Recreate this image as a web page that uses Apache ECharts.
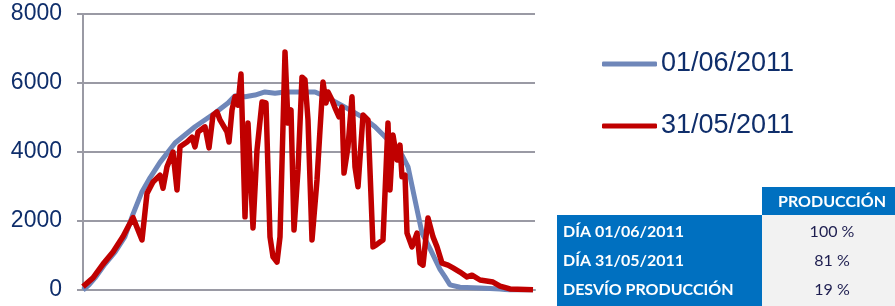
<!DOCTYPE html>
<html>
<head>
<meta charset="utf-8">
<script src="https://cdn.jsdelivr.net/npm/echarts@6/dist/echarts.min.js"></script>
<style>
html,body{margin:0;padding:0;background:#fff;}
#chart{width:895px;height:306px;}
</style>
</head>
<body>
<div id="chart"></div>
<script>
// time in minutes from start of the measurement window
const seriesNames = ['01/06/2011', '31/05/2011'];
const yTicks = [0, 2000, 4000, 6000, 8000];

const blueTimes = [0,12,24,44,64,84,100,118,134,154,184,224,264,290,304,324,344,364,384,404,438,464,478,490,524,558,584,604,638,650,664,678,694,714,724,734,754,794,834,854,900];
const blueValues = [0,150,350,750,1100,1550,2200,2850,3250,3700,4260,4730,5130,5420,5630,5600,5650,5740,5700,5740,5740,5740,5650,5570,5300,5020,4730,4440,3910,3570,2610,1650,1200,600,380,150,80,60,30,0,0];

const redTimes = [0,20,40,60,80,100,118,128,140,154,160,168,180,188,194,208,218,224,230,244,252,260,268,274,288,292,298,304,310,316,324,330,340,348,358,366,374,380,388,394,404,410,416,422,430,438,444,450,458,468,474,480,486,490,498,504,512,518,522,530,538,544,550,560,570,580,586,594,600,610,614,620,628,634,638,644,648,658,668,674,680,690,700,708,718,730,740,754,768,778,794,820,834,854,900];
const redValues = [100,350,750,1100,1550,2100,1450,2800,3130,3330,2950,3570,4000,2900,4150,4290,4430,4150,4580,4730,4120,5070,5160,4930,4580,4290,5220,5600,5360,6260,2120,4840,1800,4060,5450,5420,1540,960,810,1540,6900,4840,5220,1740,3480,6170,6090,4930,1450,3190,4640,6030,5420,5740,5510,5280,5020,5300,3390,4150,5600,3570,2990,5070,4930,1250,1300,1390,1450,4840,2900,4490,3770,4200,3280,3330,1650,1250,1650,780,720,2090,1540,1250,780,720,640,520,380,430,290,230,115,30,10];

const tableHeader = 'PRODUCCIÓN';
const tableRows = ['DÍA 01/06/2011', 'DÍA 31/05/2011', 'DESVÍO PRODUCCIÓN'];
const tableValues = ['100 %', '81 %', '19 %'];

const navy = '#0F2E6B';
const gridGrey = '#9A9AA4';

const chart = echarts.init(document.getElementById('chart'), null, {renderer: 'canvas'});

const rowY = [232, 261, 290];
const graphics = [
  {type: 'rect', shape: {x: 762, y: 187, width: 133, height: 28}, style: {fill: '#0070C0'}},
  {type: 'rect', shape: {x: 557, y: 215, width: 205, height: 91}, style: {fill: '#0070C0'}},
  {type: 'rect', shape: {x: 762, y: 215, width: 133, height: 91}, style: {fill: '#F2F2F2'}},
  {type: 'text', x: 832, y: 202, style: {text: tableHeader, fill: '#fff', font: 'bold 16px Lato', textAlign: 'center', textVerticalAlign: 'middle'}}
];
tableRows.forEach((r, i) => {
  graphics.push({type: 'text', x: 563, y: rowY[i], style: {text: r, fill: '#fff', font: 'bold 16px Lato', textAlign: 'left', textVerticalAlign: 'middle'}});
  graphics.push({type: 'text', x: 832, y: rowY[i], style: {text: tableValues[i], fill: '#1E1E50', font: '16px Lato', textAlign: 'center', textVerticalAlign: 'middle'}});
});

chart.setOption({
  animation: false,
  grid: {left: 83, right: 360, top: 14, bottom: 16, containLabel: false},
  xAxis: {
    type: 'value', min: 0, max: 904,
    axisLabel: {show: false}, axisTick: {show: false}, splitLine: {show: false},
    axisLine: {show: true, lineStyle: {color: gridGrey, width: 2}}
  },
  yAxis: {
    type: 'value', min: yTicks[0], max: yTicks[yTicks.length - 1], interval: 2000,
    axisLine: {show: true, lineStyle: {color: gridGrey, width: 2}},
    axisTick: {show: true, length: 6, lineStyle: {color: gridGrey, width: 2}},
    splitLine: {show: true, lineStyle: {color: gridGrey, width: 2}},
    axisLabel: {color: navy, fontSize: 23, fontFamily: 'Liberation Sans', margin: 21, formatter: v => String(v)}
  },
  legend: {
    orient: 'vertical', left: 597, top: 44, itemWidth: 55, itemHeight: 5, itemGap: 32,
    icon: 'roundRect',
    data: seriesNames,
    textStyle: {color: navy, fontSize: 27, fontFamily: 'Liberation Sans', lineHeight: 30, padding: [0, 0, 0, -1]}
  },
  series: [
    {
      name: seriesNames[0], type: 'line', showSymbol: false, symbol: 'none', z: 2,
      data: blueTimes.map((t, i) => [t, blueValues[i]]),
      lineStyle: {color: '#6F87B9', width: 5},
      itemStyle: {color: '#6F87B9'}
    },
    {
      name: seriesNames[1], type: 'line', showSymbol: false, symbol: 'none', z: 3,
      data: redTimes.map((t, i) => [t, redValues[i]]),
      lineStyle: {color: '#C00000', width: 5.5, join: 'round'},
      itemStyle: {color: '#C00000'}
    }
  ],
  graphic: graphics
});
</script>
</body>
</html>
